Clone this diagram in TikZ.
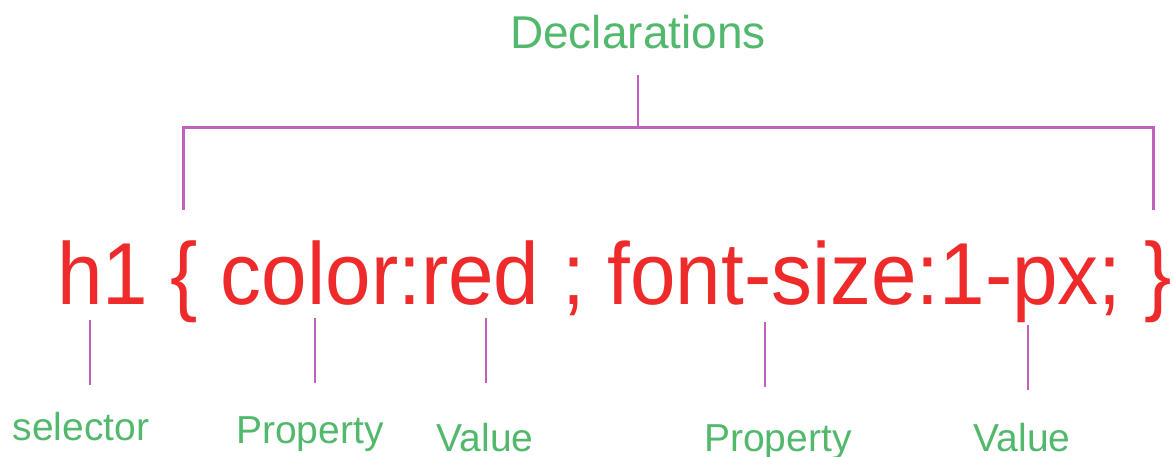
\documentclass[tikz,border=0pt]{standalone}
\usepackage{fontspec}
\setmainfont{Liberation Sans}
\usepackage{xcolor}
\usepackage{tikz}

\definecolor{cssred}{HTML}{EE2A2A}
\definecolor{cssgreen}{HTML}{52B86C}
\definecolor{cssline}{HTML}{C060C0}

\begin{document}
\begin{tikzpicture}[x=1pt, y=-1pt,
  part/.style={text=cssgreen, font=\fontsize{39}{39}\selectfont, anchor=base},
  tick/.style={draw=cssline, line width=2.4pt},
  brace/.style={draw=cssline, line width=3pt}]
 \useasboundingbox (0,0) rectangle (1173,457);

  % the rule itself
  \node[anchor=base west, text=cssred, inner sep=0pt, xscale=0.93,
        font=\fontsize{88}{88}\selectfont] (rule) at (57,305)
        {h1 \{ color:red ; font-size:1-px; \}};

  % declarations bracket
  \node[text=cssgreen, anchor=base, font=\fontsize{46}{46}\selectfont] (decl) at (638,49) {Declarations};
  \coordinate (bl) at (183,210);
  \coordinate (bm) at (638,128);
  \coordinate (br) at (1153,210);
  \draw[brace] (bl) |- (bm) -| (br);
  \draw[tick, shorten <=22pt] (decl.south) -- (bm);

  % labels under the rule
  \node[part] (sel)   at (81,440)   {selector};
  \node[part] (prop1) at (310,443)  {Property};
  \node[part] (val1)  at (485,451)  {Value};
  \node[part] (prop2) at (778,451)  {Property};
  \node[part] (val2)  at (1022,451) {Value};

  \coordinate (tsel)   at (90,320);
  \coordinate (tprop1) at (315,318);
  \coordinate (tval1)  at (486,318);
  \coordinate (tprop2) at (765,322);
  \coordinate (tval2)  at (1028,325);

  \foreach \t in {tsel, tprop1, tval1, tprop2, tval2}
   \draw[tick] (\t) -- ++(0,65);

\end{tikzpicture}
\end{document}
